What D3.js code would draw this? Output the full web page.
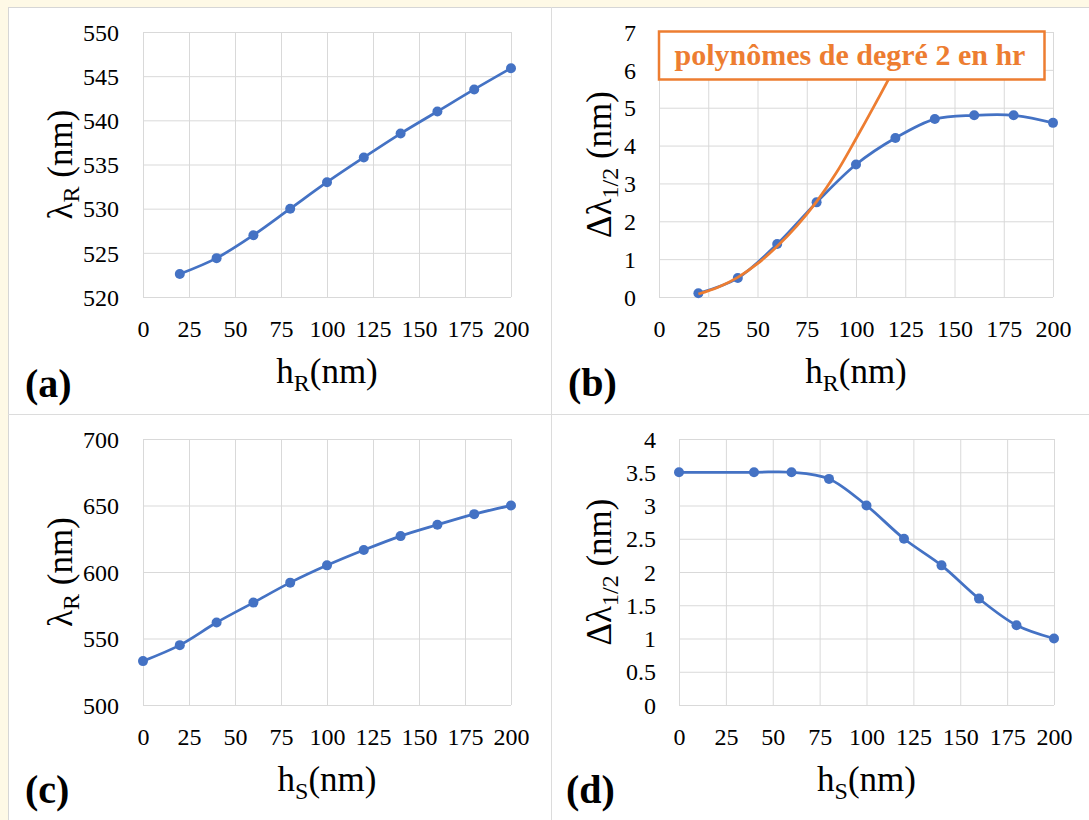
<!DOCTYPE html>
<html>
<head>
<meta charset="utf-8">
<script src="https://cdn.jsdelivr.net/npm/d3@7"></script>
<style>
  html, body { margin: 0; padding: 0; background: #fef9e6; }
  svg { display: block; }
  text { font-family: "Liberation Serif", "Times New Roman", serif; fill: #000; }
</style>
</head>
<body>
<svg id="chart" width="1089" height="820"></svg>
<script>
// ---- Data ----
const xTicks = [0, 25, 50, 75, 100, 125, 150, 175, 200];

// (a) resonance wavelength vs hR
const hrA = [20, 40, 60, 80, 100, 120, 140, 160, 180, 200];
const lambdaA = [522.6, 524.4, 527.0, 530.0, 533.0, 535.8, 538.5, 541.0, 543.5, 545.9];
const yTicksA = [520, 525, 530, 535, 540, 545, 550];

// (b) FWHM vs hR
const hrB = [20, 40, 60, 80, 100, 120, 140, 160, 180, 200];
const fwhmB = [0.1, 0.5, 1.4, 2.5, 3.5, 4.2, 4.7, 4.8, 4.8, 4.6];
const yTicksB = [0, 1, 2, 3, 4, 5, 6, 7];
// (b) orange degree-2 polynomial trend
const hrFit = [20, 30, 40, 50, 60, 70, 80, 90, 100, 110, 120, 125];
const fwhmFit = [0.08, 0.26, 0.52, 0.88, 1.34, 1.88, 2.52, 3.28, 4.18, 5.12, 6.1, 6.65];
const fitLabel = "polynômes de degré 2 en hr";

// (c) resonance wavelength vs hS
const hsC = [0, 20, 40, 60, 80, 100, 120, 140, 160, 180, 200];
const lambdaC = [533, 545, 562, 577, 592, 605, 616.5, 627, 635.5, 643.5, 650];
const yTicksC = [500, 550, 600, 650, 700];

// (d) FWHM vs hS
const hsD = [0, 40, 60, 80, 100, 120, 140, 160, 180, 200];
const fwhmD = [3.5, 3.5, 3.5, 3.4, 3.0, 2.5, 2.1, 1.6, 1.2, 1.0];
const yTicksD = [0, 0.5, 1, 1.5, 2, 2.5, 3, 3.5, 4];

// ---- Styles ----
const BLUE = "#4472c4";
const ORANGE = "#ed7d31";
const GRID = "#d9d9d9";

const svg = d3.select("#chart");

// page frame
svg.append("rect").attr("x", 0).attr("y", 0).attr("width", 1089).attr("height", 820).attr("fill", "#fef9e6");
svg.append("rect").attr("x", 8.5).attr("y", 7.5).attr("width", 1089).attr("height", 820)
  .attr("fill", "#fff").attr("stroke", "#d6d6d6").attr("stroke-width", 1);
svg.append("line").attr("x1", 551.5).attr("x2", 551.5).attr("y1", 7).attr("y2", 820)
  .attr("stroke", "#dcdcdc").attr("stroke-width", 1);
svg.append("line").attr("x1", 8).attr("x2", 1089).attr("y1", 414.5).attr("y2", 414.5)
  .attr("stroke", "#dcdcdc").attr("stroke-width", 1);

function panel(cfg) {
  const x = d3.scaleLinear().domain([0, 200]).range([cfg.left, cfg.right]);
  const y = d3.scaleLinear().domain(cfg.yDomain).range([cfg.bottom, cfg.top]);
  const g = svg.append("g");

  // vertical grid
  g.append("g").attr("transform", `translate(0,${cfg.bottom})`)
    .call(d3.axisBottom(x).tickValues(xTicks).tickSize(-(cfg.bottom - cfg.top)).tickFormat(""))
    .call(s => s.select(".domain").remove())
    .call(s => s.selectAll("line").attr("stroke", GRID).attr("stroke-width", 1));
  // horizontal grid
  g.append("g").attr("transform", `translate(${cfg.left},0)`)
    .call(d3.axisLeft(y).tickValues(cfg.yTicks).tickSize(-(cfg.right - cfg.left)).tickFormat(""))
    .call(s => s.select(".domain").remove())
    .call(s => s.selectAll("line").attr("stroke", GRID).attr("stroke-width", 1));

  // x tick labels
  g.append("g").attr("transform", `translate(0,${cfg.bottom})`)
    .call(d3.axisBottom(x).tickValues(xTicks).tickSize(0).tickFormat(d3.format("d")))
    .call(s => s.select(".domain").remove())
    .call(s => s.selectAll("text").attr("y", 40).attr("dy", 0)
      .attr("font-size", 24).attr("font-family", "Liberation Serif, Times New Roman, serif").attr("fill", "#000"));
  // y tick labels
  g.append("g").attr("transform", `translate(${cfg.left},0)`)
    .call(d3.axisLeft(y).tickValues(cfg.yTicks).tickSize(0).tickPadding(cfg.yPad).tickFormat(cfg.yFormat))
    .call(s => s.select(".domain").remove())
    .call(s => s.selectAll("text").attr("dy", "0.34em")
      .attr("font-size", 24).attr("font-family", "Liberation Serif, Times New Roman, serif").attr("fill", "#000"));

  // x title
  const xt = g.append("text").attr("x", (cfg.left + cfg.right) / 2).attr("y", cfg.bottom + 86)
    .attr("text-anchor", "middle").attr("font-size", 35);
  xt.append("tspan").text("h");
  xt.append("tspan").attr("font-size", 24).attr("dy", 8).text(cfg.xSub);
  xt.append("tspan").attr("dy", -8).text("(nm)");

  // y title
  const yt = g.append("text")
    .attr("transform", `translate(${cfg.titleX},${(cfg.top + cfg.bottom) / 2}) rotate(-90)`)
    .attr("text-anchor", "middle").attr("font-size", 35);
  yt.append("tspan").text(cfg.yMain);
  yt.append("tspan").attr("font-size", 24).attr("dy", 7).text(cfg.ySub);
  yt.append("tspan").attr("dy", -7).text(" (nm)");

  // panel label
  g.append("text").attr("x", cfg.labelX).attr("y", cfg.labelY)
    .attr("font-size", 40).attr("font-weight", "bold").text(cfg.label);

  return { x, y, g };
}

function series(p, xs, ys, color, markers) {
  const pts = xs.map((d, i) => [d, ys[i]]);
  const line = d3.line().x(d => p.x(d[0])).y(d => p.y(d[1])).curve(d3.curveCatmullRom.alpha(0.5));
  p.g.append("path").attr("d", line(pts)).attr("fill", "none")
    .attr("stroke", color).attr("stroke-width", 2.75).attr("stroke-linejoin", "round");
  if (markers) {
    p.g.selectAll(null).data(pts).enter().append("circle")
      .attr("cx", d => p.x(d[0])).attr("cy", d => p.y(d[1])).attr("r", 5).attr("fill", color);
  }
}

// (a)
const pa = panel({ left: 143, right: 511, top: 32, bottom: 297, yDomain: [520, 550], yTicks: yTicksA,
  yPad: 24, yFormat: d3.format("d"), xSub: "R", yMain: "λ", ySub: "R", titleX: 72,
  label: "(a)", labelX: 25, labelY: 397 });
series(pa, hrA, lambdaA, BLUE, true);

// (b)
const pb = panel({ left: 659, right: 1053, top: 32, bottom: 297, yDomain: [0, 7], yTicks: yTicksB,
  yPad: 23, yFormat: d3.format("d"), xSub: "R", yMain: "Δλ", ySub: "1/2", titleX: 611,
  label: "(b)", labelX: 568, labelY: 396 });
series(pb, hrB, fwhmB, BLUE, true);
series(pb, hrFit, fwhmFit, ORANGE, false);
// annotation box
pb.g.append("rect").attr("x", 659).attr("y", 31.5).attr("width", 385.5).attr("height", 48)
  .attr("fill", "#fff").attr("stroke", ORANGE).attr("stroke-width", 2.5);
pb.g.append("text").attr("x", 850).attr("y", 65).attr("text-anchor", "middle")
  .attr("font-size", 30).attr("font-weight", "bold").attr("fill", ORANGE).style("fill", ORANGE)
  .text(fitLabel);

// (c)
const pc = panel({ left: 143, right: 511, top: 439, bottom: 705, yDomain: [500, 700], yTicks: yTicksC,
  yPad: 24, yFormat: d3.format("d"), xSub: "S", yMain: "λ", ySub: "R", titleX: 72,
  label: "(c)", labelX: 25, labelY: 803 });
series(pc, hsC, lambdaC, BLUE, true);

// (d)
const pd = panel({ left: 679, right: 1054, top: 439, bottom: 705, yDomain: [0, 4], yTicks: yTicksD,
  yPad: 23, yFormat: d => String(d), xSub: "S", yMain: "Δλ", ySub: "1/2", titleX: 611,
  label: "(d)", labelX: 566, labelY: 803 });
series(pd, hsD, fwhmD, BLUE, true);
</script>
</body>
</html>
